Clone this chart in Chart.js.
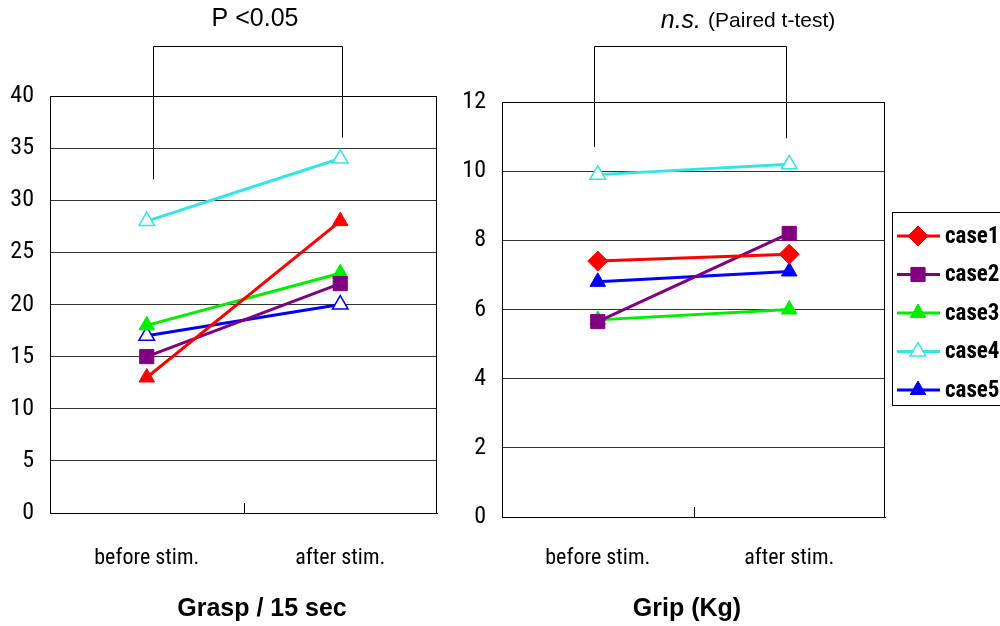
<!DOCTYPE html>
<html>
<head>
<meta charset="utf-8">
<script src="https://cdn.jsdelivr.net/npm/chart.js@4.4.1/dist/chart.umd.min.js"></script>
<style>
  html, body { margin: 0; padding: 0; background: #fff; }
  #wrap { position: relative; width: 1000px; height: 626px; overflow: hidden; }
  #left { position: absolute; left: 0; top: 0; width: 460px; height: 626px; }
  #right { position: absolute; left: 450px; top: 0; width: 550px; height: 626px; }
</style>
</head>
<body>
<div id="wrap">
  <div id="left"><canvas id="c1"></canvas></div>
  <div id="right"><canvas id="c2"></canvas></div>
</div>
<script>
// ---- data ----
const categories = ['before stim.', 'after stim.'];
const caseNames = ['case1', 'case2', 'case3', 'case4', 'case5'];
const graspCase1 = [13, 28];
const graspCase2 = [15, 22];
const graspCase3 = [18, 23];
const graspCase4 = [28, 34];
const graspCase5 = [17, 20];
const gripCase1 = [7.4, 7.6];
const gripCase2 = [5.65, 8.2];
const gripCase3 = [5.7, 6.0];
const gripCase4 = [9.9, 10.2];
const gripCase5 = [6.8, 7.1];
const graspTicks = [0, 5, 10, 15, 20, 25, 30, 35, 40];
const gripTicks = [0, 2, 4, 6, 8, 10, 12];
const graspTitle = 'Grasp / 15 sec';
const gripTitle = 'Grip (Kg)';
const graspTest = 'P <0.05';
const gripTestItalic = 'n.s.';
const gripTestNote = '(Paired t-test)';
// bracket leg ends (in data units)
const graspBracketLegs = [32, 36];
const gripBracketLegs = [10.7, 10.95];

const colors = ['#ff0000', '#800080', '#00ee00', '#33e6e6', '#0000ff'];
const narrow = "'Roboto Condensed', 'DejaVu Sans Condensed', sans-serif";
const arial = "'Liberation Sans', Arial, sans-serif";

function ds(label, data, color, style, hollow, radius) {
  return {
    label, data,
    borderColor: color,
    backgroundColor: color,
    borderWidth: 3,
    pointStyle: style,
    pointRadius: radius,
    pointHoverRadius: radius,
    pointBackgroundColor: hollow ? '#ffffff' : color,
    pointBorderColor: color,
    pointBorderWidth: hollow ? 1.5 : 1,
    tension: 0
  };
}

const frame = {
  id: 'frame',
  afterDraw(chart, args, opts) {
    const { ctx, chartArea: a, scales: { x, y } } = chart;
    ctx.save();
    ctx.strokeStyle = '#000';
    ctx.lineWidth = 1;
    ctx.strokeRect(a.left + 0.5, a.top + 0.5, a.right - a.left - 1, a.bottom - a.top);
    // middle tick on x axis (inside)
    const mid = Math.round((x.getPixelForValue(0) + x.getPixelForValue(1)) / 2) + 0.5;
    ctx.beginPath();
    ctx.moveTo(mid, a.bottom);
    ctx.lineTo(mid, a.bottom - 10);
    ctx.stroke();
    // bracket
    const bx1 = Math.round(x.getPixelForValue(0) + opts.dx[0]) + 0.5;
    const bx2 = Math.round(x.getPixelForValue(1) + opts.dx[1]) + 0.5;
    ctx.beginPath();
    ctx.moveTo(bx1, y.getPixelForValue(opts.legs[0]));
    ctx.lineTo(bx1, opts.top + 0.5);
    ctx.lineTo(bx2, opts.top + 0.5);
    ctx.lineTo(bx2, y.getPixelForValue(opts.legs[1]));
    ctx.stroke();
    // test label
    ctx.fillStyle = '#000';
    ctx.textBaseline = 'middle';
    if (opts.italic) {
      ctx.font = "italic 25px " + arial;
      const w1 = ctx.measureText(opts.italic).width;
      ctx.font = "21px " + arial;
      const w2 = ctx.measureText(opts.note).width;
      const total = w1 + 7 + w2;
      const sx = opts.labelX - total / 2;
      ctx.textAlign = 'left';
      ctx.font = "italic 25px " + arial;
      ctx.fillText(opts.italic, sx, opts.labelY);
      ctx.font = "21px " + arial;
      ctx.fillText(opts.note, sx + w1 + 7, opts.labelY);
    } else {
      ctx.textAlign = 'center';
      ctx.font = "25px " + arial;
      ctx.fillText(opts.text, opts.labelX, opts.labelY);
    }
    // bottom title
    ctx.textAlign = 'center';
    ctx.font = "bold 25px " + arial;
    ctx.fillText(opts.title, opts.titleX, opts.titleY);
    ctx.restore();
  }
};

const legendBox = {
  id: 'legendBox',
  afterDraw(chart, args, opts) {
    if (!opts.show) return;
    const { ctx } = chart;
    ctx.save();
    ctx.strokeStyle = '#000';
    ctx.lineWidth = 1;
    ctx.strokeRect(opts.x + 0.5, opts.y + 0.5, 200, opts.h);
    chart.data.datasets.forEach((d, i) => {
      const cy = opts.y + 24 + i * 38.5;
      ctx.strokeStyle = d.borderColor;
      ctx.lineWidth = 3;
      ctx.beginPath();
      ctx.moveTo(opts.x + 5, cy);
      ctx.lineTo(opts.x + 48, cy);
      ctx.stroke();
      ctx.fillStyle = d.pointBackgroundColor;
      ctx.strokeStyle = d.pointBorderColor;
      ctx.lineWidth = d.pointBorderWidth;
      Chart.helpers.drawPoint(ctx, {
        pointStyle: d.pointStyle,
        radius: d.pointRadius,
        borderWidth: d.pointBorderWidth,
        rotation: 0
      }, opts.x + 26, cy);
      ctx.fillStyle = '#000';
      ctx.font = "bold 23px " + narrow;
      ctx.textAlign = 'left';
      ctx.textBaseline = 'middle';
      ctx.fillText(d.label, opts.x + 53, cy + 1);
    });
    ctx.restore();
  }
};

function makeOptions(cfg) {
  return {
    responsive: true,
    maintainAspectRatio: false,
    animation: false,
    events: [],
    layout: { padding: { left: 0, right: cfg.padRight, top: cfg.padTop, bottom: 0 } },
    plugins: {
      legend: { display: false },
      tooltip: { enabled: false },
      frame: cfg.frame,
      legendBox: cfg.legend
    },
    scales: {
      x: {
        type: 'category',
        offset: true,
        grid: { display: false, drawTicks: false },
        border: { display: true, color: '#000', width: 1 },
        ticks: { color: '#000', font: { family: narrow, size: 22 }, padding: cfg.xPad, maxRotation: 0 },
        afterFit: s => { s.height = cfg.xHeight; }
      },
      y: {
        min: cfg.ticks[0],
        max: cfg.ticks[cfg.ticks.length - 1],
        afterBuildTicks: s => { s.ticks = cfg.ticks.map(v => ({ value: v })); },
        grid: { color: '#333', lineWidth: 1, drawTicks: false },
        border: { display: true, color: '#000' },
        ticks: { color: '#000', font: { family: narrow, size: 24 }, padding: 16 },
        afterFit: s => { s.width = cfg.yWidth; }
      }
    }
  };
}

new Chart(document.getElementById('c1'), {
  type: 'line',
  data: {
    labels: categories,
    datasets: [
      ds(caseNames[0], graspCase1, colors[0], 'triangle', false, 9),
      ds(caseNames[1], graspCase2, colors[1], 'rect', false, 10),
      ds(caseNames[2], graspCase3, colors[2], 'triangle', false, 9),
      ds(caseNames[3], graspCase4, colors[3], 'triangle', true, 9),
      ds(caseNames[4], graspCase5, colors[4], 'triangle', true, 9)
    ]
  },
  options: makeOptions({
    padRight: 23, padTop: 96, xHeight: 113, yWidth: 50, xPad: 32, ticks: graspTicks,
    frame: { dx: [6, 2], legs: graspBracketLegs, top: 46, text: graspTest, labelX: 255, labelY: 19,
             title: graspTitle, titleX: 262, titleY: 609 },
    legend: { show: false }
  }),
  plugins: [frame, legendBox]
});

new Chart(document.getElementById('c2'), {
  type: 'line',
  data: {
    labels: categories,
    datasets: [
      ds(caseNames[0], gripCase1, colors[0], 'rectRot', false, 10),
      ds(caseNames[1], gripCase2, colors[1], 'rect', false, 10),
      ds(caseNames[2], gripCase3, colors[2], 'triangle', false, 9),
      ds(caseNames[3], gripCase4, colors[3], 'triangle', true, 9),
      ds(caseNames[4], gripCase5, colors[4], 'triangle', false, 9)
    ]
  },
  options: makeOptions({
    padRight: 115, padTop: 102, xHeight: 109, yWidth: 52, xPad: 28, ticks: gripTicks,
    frame: { dx: [-4, -3], legs: gripBracketLegs, top: 46, italic: gripTestItalic, note: gripTestNote, labelX: 298, labelY: 21,
             title: gripTitle, titleX: 237, titleY: 609 },
    legend: { show: true, x: 442, y: 212, h: 193 }
  }),
  plugins: [frame, legendBox]
});
</script>
</body>
</html>
